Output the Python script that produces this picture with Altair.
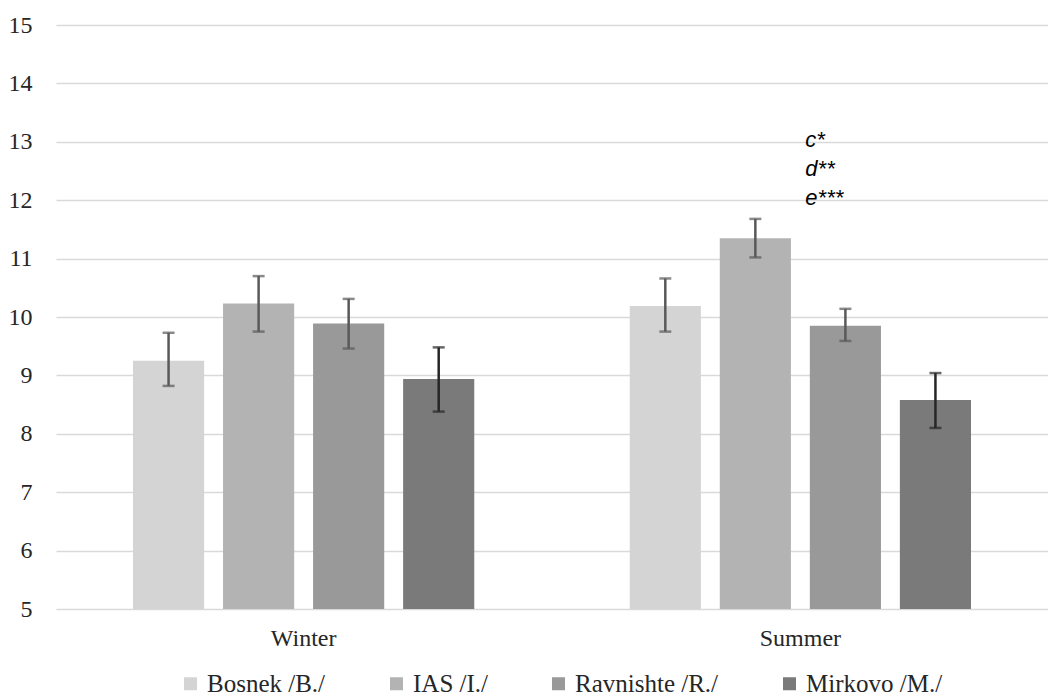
import altair as alt
import pandas as pd

# Seasonal means with standard-error bounds for four sites
seasons = ["Winter", "Summer"]
sites = ["Bosnek /B./", "IAS /I./", "Ravnishte /R./", "Mirkovo /M./"]
winter_mean = [9.25, 10.23, 9.89, 8.94]
winter_low = [8.82, 9.75, 9.46, 8.38]
winter_high = [9.73, 10.70, 10.31, 9.48]
summer_mean = [10.19, 11.35, 9.85, 8.58]
summer_low = [9.75, 11.02, 9.59, 8.10]
summer_high = [10.66, 11.68, 10.14, 9.04]

site_colors = ["#d4d4d4", "#b3b3b3", "#999999", "#7a7a7a"]
err_colors = ["#595959", "#595959", "#595959", "#262626"]

# Significance notes above the summer IAS bar
note_text = ["c*", "d**", "e***"]
note_y = [12.91, 12.41, 11.92]

rows = []
for season, means, lows, highs in [
    ("Winter", winter_mean, winter_low, winter_high),
    ("Summer", summer_mean, summer_low, summer_high),
]:
    for site, m, lo, hi in zip(sites, means, lows, highs):
        rows.append({"season": season, "site": site, "mean": m, "low": lo, "high": hi})
df = pd.DataFrame(rows)

notes = pd.DataFrame({"season": "Summer", "site": sites[1], "label": note_text, "y": note_y})

serif = "Liberation Serif"

x_enc = alt.X(
    "season:N",
    sort=seasons,
    title=None,
    scale=alt.Scale(paddingInner=0.313, paddingOuter=0.155),
    axis=alt.Axis(
        labelAngle=0, domain=False, ticks=False, labelPadding=17,
        labelFont=serif, labelFontSize=24, labelColor="#262626",
    ),
)
off_enc = alt.XOffset("site:N", sort=sites, scale=alt.Scale(paddingInner=0.21, paddingOuter=0))
y_scale = alt.Scale(domain=[5, 15], zero=False, nice=False)

bars = alt.Chart(df).mark_bar().encode(
    x=x_enc,
    xOffset=off_enc,
    y=alt.Y(
        "mean:Q",
        scale=y_scale,
        title=None,
        axis=alt.Axis(
            values=list(range(5, 16)), format="d", domain=False, ticks=False, labelPadding=24,
            labelFont=serif, labelFontSize=24, labelColor="#262626",
            gridColor="#d9d9d9", gridWidth=1.6,
        ),
    ),
    y2=alt.datum(5),
    color=alt.Color(
        "site:N",
        sort=sites,
        scale=alt.Scale(domain=sites, range=site_colors),
        legend=alt.Legend(
            title=None, orient="none", direction="horizontal",
            legendX=122, legendY=646,
            symbolType="square", symbolSize=169, symbolStrokeWidth=0,
            labelFont=serif, labelFontSize=25, labelColor="#262626",
            labelOffset=4, columnPadding=58, padding=0,
        ),
    ),
)

err_color = alt.Color("site:N", sort=sites, scale=alt.Scale(domain=sites, range=err_colors), legend=None)

whisker = alt.Chart(df).mark_rule(strokeWidth=2.5).encode(
    x=alt.X("season:N", sort=seasons),
    xOffset=alt.XOffset("site:N", sort=sites),
    y=alt.Y("low:Q", scale=y_scale),
    y2="high:Q",
    stroke=alt.Stroke("site:N", sort=sites, scale=alt.Scale(domain=sites, range=err_colors), legend=None),
)

cap_low = alt.Chart(df).mark_tick(thickness=2.5, size=12).encode(
    x=alt.X("season:N", sort=seasons),
    xOffset=alt.XOffset("site:N", sort=sites),
    y=alt.Y("low:Q", scale=y_scale),
    color=err_color,
)
cap_high = alt.Chart(df).mark_tick(thickness=2.5, size=12).encode(
    x=alt.X("season:N", sort=seasons),
    xOffset=alt.XOffset("site:N", sort=sites),
    y=alt.Y("high:Q", scale=y_scale),
    color=err_color,
)

note_layer = alt.Chart(notes).mark_text(
    align="left", baseline="alphabetic", dx=50,
    font="Liberation Sans", fontSize=22, fontStyle="italic", color="#000000",
).encode(
    x=alt.X("season:N", sort=seasons),
    xOffset=alt.XOffset("site:N", sort=sites),
    y=alt.Y("y:Q", scale=y_scale),
    text="label:N",
)

chart = (
    alt.layer(bars, whisker, cap_low, cap_high, note_layer)
    .resolve_scale(color="independent")
    .properties(
        width=992,
        height=584,
        autosize=alt.AutoSizeParams(type="none"),
        padding={"left": 56, "top": 25, "right": 0, "bottom": 90},
        background="white",
    )
    .configure_view(stroke=None)
)

chart.save("out.html", embed_options={"renderer": "svg", "actions": False})
